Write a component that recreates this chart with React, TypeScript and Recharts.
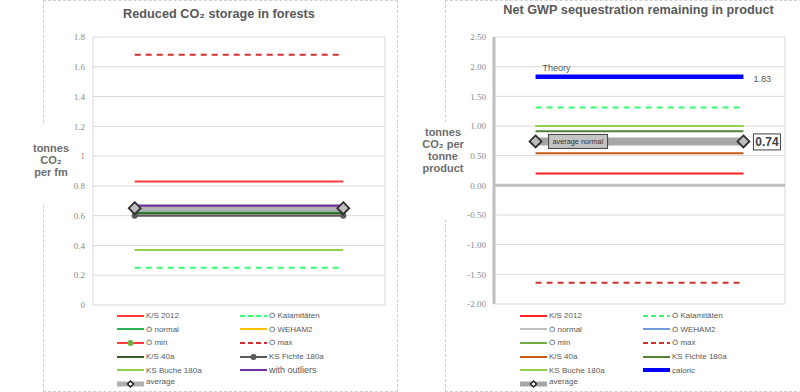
import React from "react";
import { LineChart, Line, XAxis, YAxis, CartesianGrid, Legend, ReferenceLine, LabelList } from "recharts";

// every series is a flat line from x=1 to x=6 on a 0..7 grid
const X_RANGE = [1, 6];
const X_GRID = [0, 1, 2, 3, 4, 5, 6, 7];

const LEFT_NAMES = ["K/S 2012", "Ö Kalamitäten", "Ö normal", "Ö WEHAM2", "Ö min", "Ö max", "K/S 40a", "KS Fichte 180a", "KS Buche 180a", "with outliers", "average"];
const LEFT_VALUES = [0.83, 0.25, 0.62, 0.65, 0.65, 1.68, 0.615, 0.6, 0.37, 0.667, 0.65];
const LEFT_TICKS = [0, 0.2, 0.4, 0.6, 0.8, 1, 1.2, 1.4, 1.6, 1.8];

const RIGHT_NAMES = ["K/S 2012", "Ö Kalamitäten", "Ö normal", "Ö WEHAM2", "Ö min", "Ö max", "K/S 40a", "KS Fichte 180a", "KS Buche 180a", "caloric", "average"];
const RIGHT_VALUES = [0.2, 1.31, 0.74, 0.74, 1.0, -1.64, 0.54, 0.91, 1.0, 1.83, 0.74];
const RIGHT_TICKS = [-2, -1.5, -1, -0.5, 0, 0.5, 1, 1.5, 2, 2.5];

type Look = { color: string; width: number; dash?: string; dot?: string; diamond?: boolean };

const LEFT_LOOK: Record<string, Look> = {
  "K/S 2012": { color: "#ff3b3b", width: 2 },
  "Ö Kalamitäten": { color: "#33ff70", width: 2, dash: "6 5" },
  "Ö normal": { color: "#2bb357", width: 2 },
  "Ö WEHAM2": { color: "#ffc000", width: 2 },
  "Ö min": { color: "#ff3b3b", width: 2, dot: "#70ad47" },
  "Ö max": { color: "#d22f2f", width: 2, dash: "6 5" },
  "K/S 40a": { color: "#3a5a2a", width: 2 },
  "KS Fichte 180a": { color: "#595959", width: 2, dot: "#595959" },
  "KS Buche 180a": { color: "#92d050", width: 2 },
  "with outliers": { color: "#7030a0", width: 2 },
  average: { color: "#b0b0b0", width: 8, diamond: true },
};

const RIGHT_LOOK: Record<string, Look> = {
  "K/S 2012": { color: "#ff2020", width: 2 },
  "Ö Kalamitäten": { color: "#33ff70", width: 2, dash: "6 5" },
  "Ö normal": { color: "#bfbfbf", width: 2 },
  "Ö WEHAM2": { color: "#6f9fd8", width: 2 },
  "Ö min": { color: "#70ad47", width: 2 },
  "Ö max": { color: "#d22f2f", width: 2, dash: "6 5" },
  "K/S 40a": { color: "#c55a11", width: 2 },
  "KS Fichte 180a": { color: "#548235", width: 2 },
  "KS Buche 180a": { color: "#92d050", width: 2 },
  caloric: { color: "#0000ff", width: 4.5 },
  average: { color: "#a6a6a6", width: 8, diamond: true },
};

// order of drawing (later on top)
const LEFT_ORDER = ["Ö WEHAM2", "Ö min", "K/S 2012", "Ö Kalamitäten", "Ö max", "KS Buche 180a", "average", "Ö normal", "K/S 40a", "KS Fichte 180a", "with outliers"];
const RIGHT_ORDER = ["Ö normal", "Ö WEHAM2", "Ö min", "K/S 2012", "Ö Kalamitäten", "Ö max", "K/S 40a", "KS Fichte 180a", "KS Buche 180a", "caloric", "average"];

const FONT = "'Liberation Sans', Arial, sans-serif";
const GRID = "#d9d9d9";
const TICK = { fontSize: 9, fill: "#8a8a8a" };

const flat = (v: number) => X_RANGE.map((x) => ({ x, y: v }));

const Diamond = (props: any) => {
  const { cx, cy, index } = props;
  const r = 6;
  return (
    <path
      key={"d" + index}
      d={`M${cx},${cy - r} L${cx + r},${cy} L${cx},${cy + r} L${cx - r},${cy} Z`}
      fill="#bdbdbd"
      stroke="#303030"
      strokeWidth={1.8}
    />
  );
};

const dotOf = (color: string) => (props: any) => (
  <circle key={"c" + props.index} cx={props.cx} cy={props.cy} r={3} fill={color} stroke="none" />
);

function Swatch({ look }: { look: Look }) {
  return (
    <svg width={27} height={10} style={{ flex: "none" }}>
      <line x1={0} y1={5} x2={27} y2={5} stroke={look.color} strokeWidth={look.diamond ? 5 : Math.min(look.width, 4)} strokeDasharray={look.dash ? "5 3" : undefined} />
      {look.dot && <circle cx={13.5} cy={5} r={3} fill={look.dot} />}
      {look.diamond && <path d="M13.5,2 L16.5,5 L13.5,8 L10.5,5 Z" fill="#fff" stroke="#222" strokeWidth={1.5} />}
    </svg>
  );
}

function LegendGrid({ names, looks }: { names: string[]; looks: Record<string, Look> }) {
  return (
    <div style={{ display: "grid", gridTemplateColumns: "123px 123px", fontFamily: FONT, fontSize: 8, color: "#595959" }}>
      {names.map((n) => (
        <div key={n} style={{ display: "flex", alignItems: "center", height: 13.6 }}>
          <Swatch look={looks[n]} />
          <span
            style={{
              marginLeft: 2, whiteSpace: "nowrap", fontSize: n === "with outliers" ? 9 : 8,
              position: "relative", top: n === "average" ? -2 : 0,
            }}
          >
            {n}
          </span>
        </div>
      ))}
    </div>
  );
}

const AxisTitle = ({ lines, left, top, height, pad }: { lines: string[]; left: number; top: number; height: number; pad: number }) => (
  <div
    style={{
      position: "absolute", left, top, width: 46, height, paddingTop: pad, boxSizing: "border-box",
      background: "#fff", textAlign: "center", fontFamily: FONT, fontWeight: "bold", fontSize: 11,
      lineHeight: "12.2px", color: "#6e6e6e",
    }}
  >
    {lines.map((l) => (
      <div key={l}>{l}</div>
    ))}
  </div>
);

const Title = ({ text, center, top }: { text: string; center: number; top: number }) => (
  <div
    style={{
      position: "absolute", left: center - 200, width: 400, top, textAlign: "center", fontFamily: FONT,
      fontWeight: "bold", fontSize: 12.7, lineHeight: "15px", color: "#595959",
    }}
  >
    {text}
  </div>
);

function LeftChart() {
  return (
    <LineChart width={400} height={392} margin={{ top: 37, right: 15, bottom: 87, left: 0 }} style={{ position: "absolute", left: 0, top: 0 }}>
      <CartesianGrid stroke={GRID} />
      <XAxis dataKey="x" type="number" domain={[0, 7]} ticks={X_GRID} tick={false} axisLine={false} tickLine={false} height={0} />
      <YAxis type="number" domain={[0, 1.8]} ticks={LEFT_TICKS} interval={0} width={93} axisLine={false} tickLine={false} tick={TICK}
        tickFormatter={(v: number) => String(Math.round(v * 10) / 10)} />
      {LEFT_ORDER.map((name) => {
        const look = LEFT_LOOK[name];
        const v = LEFT_VALUES[LEFT_NAMES.indexOf(name)];
        return (
          <Line key={name} name={name} data={flat(v)} dataKey="y" type="linear" stroke={look.color} strokeWidth={look.width}
            strokeDasharray={look.dash} dot={name === "KS Fichte 180a" ? dotOf("#595959") : false} activeDot={false}
            isAnimationActive={false} />
        );
      })}
      <Line name="average markers" data={flat(LEFT_VALUES[LEFT_NAMES.indexOf("average")])} dataKey="y" stroke="none" dot={Diamond}
        activeDot={false} legendType="none" isAnimationActive={false} />
      <Legend layout="horizontal" verticalAlign="middle" align="center" wrapperStyle={{ left: 117, top: 309, width: 250 }}
        content={() => <LegendGrid names={LEFT_NAMES} looks={LEFT_LOOK} />} />
    </LineChart>
  );
}

const theoryLabel = (p: any) => {
  if (p.index === 0)
    return <text key="t0" x={p.x + 7} y={p.y - 6} fontSize={9} fill="#595959" fontFamily={FONT}>Theory</text>;
  return <text key="t1" x={p.x + 10} y={p.y + 5} fontSize={9} fill="#595959" fontFamily={FONT}>{Number(p.value).toFixed(2)}</text>;
};

const averageLabel = (p: any) => {
  if (p.index === 0)
    return (
      <g key="a0">
        <rect x={p.x + 13} y={p.y - 7} width={59} height={14} fill="#c4c4c4" stroke="#404040" strokeWidth={1} />
        <text x={p.x + 17} y={p.y + 2.6} fontSize={7.3} fill="#303030" fontFamily={FONT}>average normal</text>
      </g>
    );
  return (
    <g key="a1">
      <rect x={p.x + 10} y={p.y - 7.5} width={27} height={16} fill="#fff" stroke="#404040" strokeWidth={1} />
      <text x={p.x + 23.5} y={p.y + 4.5} fontSize={12} fontWeight="bold" fill="#404040" textAnchor="middle" fontFamily={FONT}>
        {Number(p.value).toFixed(2)}
      </text>
    </g>
  );
};

function RightChart() {
  return (
    <LineChart width={400} height={392} margin={{ top: 37, right: 15, bottom: 88, left: 0 }} style={{ position: "absolute", left: 400, top: 0 }}>
      <CartesianGrid stroke={GRID} />
      <XAxis dataKey="x" type="number" domain={[0, 7]} ticks={X_GRID} tick={false} axisLine={false} tickLine={false} height={0} />
      <YAxis type="number" domain={[-2, 2.5]} ticks={RIGHT_TICKS} interval={0} width={94} axisLine={{ stroke: "#bfbfbf", strokeWidth: 3 }}
        tickLine={false} tick={TICK} tickFormatter={(v: number) => v.toFixed(2)} />
      <ReferenceLine y={0} stroke="#bfbfbf" strokeWidth={3} />
      {RIGHT_ORDER.map((name) => {
        const look = RIGHT_LOOK[name];
        const v = RIGHT_VALUES[RIGHT_NAMES.indexOf(name)];
        return (
          <Line key={name} name={name} data={flat(v)} dataKey="y" type="linear" stroke={look.color} strokeWidth={look.width}
            strokeDasharray={look.dash} dot={false} activeDot={false} isAnimationActive={false}>
            {name === "caloric" && <LabelList dataKey="y" content={theoryLabel} />}
          </Line>
        );
      })}
      <Line name="average markers" data={flat(RIGHT_VALUES[RIGHT_NAMES.indexOf("average")])} dataKey="y" stroke="none" dot={Diamond}
        activeDot={false} legendType="none" isAnimationActive={false}>
        <LabelList dataKey="y" content={averageLabel} />
      </Line>
      <Legend layout="horizontal" verticalAlign="middle" align="center" wrapperStyle={{ left: 120, top: 309, width: 250 }}
        content={() => <LegendGrid names={RIGHT_NAMES} looks={RIGHT_LOOK} />} />
    </LineChart>
  );
}

export default function App() {
  return (
    <div style={{ position: "fixed", left: 0, top: 0, width: 800, height: 392, background: "#fff", overflow: "hidden" }}>
      <div style={{ position: "absolute", left: 43, top: 0, width: 353, height: 390, border: "1px dashed #d0d0d0" }} />
      <div style={{ position: "absolute", left: 445, top: 0, width: 400, height: 390, border: "1px dashed #d0d0d0" }} />
      <LeftChart />
      <RightChart />
      <Title text="Reduced CO₂ storage in forests" center={219} top={7.4} />
      <Title text="Net GWP sequestration remaining in product" center={638.5} top={3} />
      <AxisTitle lines={["tonnes", "CO₂", "per fm"]} left={28} top={125} height={80} pad={16.5} />
      <AxisTitle lines={["tonnes", "CO₂ per", "tonne", "product"]} left={420} top={122} height={98} pad={3.7} />
    </div>
  );
}
